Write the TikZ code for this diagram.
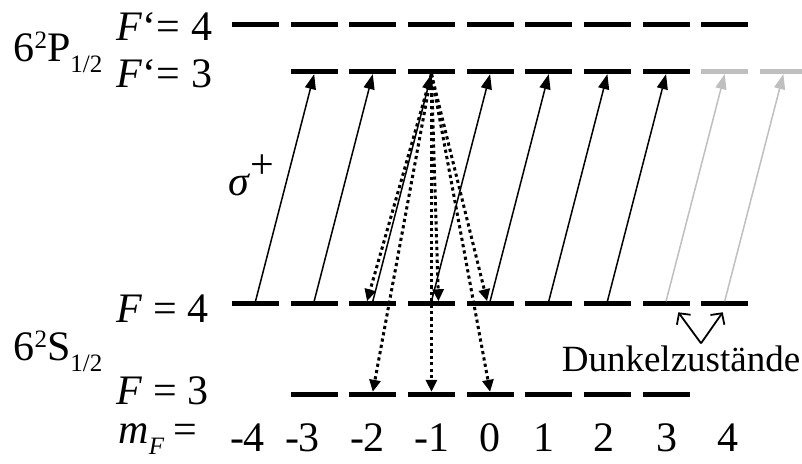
\documentclass[tikz,border=0pt]{standalone}
\usepackage{fontspec}
\setmainfont{Liberation Serif}
\usetikzlibrary{arrows.meta}
\newcommand{\highidx}[1]{\raisebox{13pt}{\fontsize{25}{25}\selectfont #1}}
\newcommand{\lowidx}[1]{\raisebox{-11pt}{\fontsize{25}{25}\selectfont #1}}
\begin{document}
\begin{tikzpicture}[x=1pt,y=-1pt,every node/.style={font=\fontsize{42}{46}\selectfont,inner sep=0pt},
  sublvl/.style={fill=black,minimum width=47pt,minimum height=4.5pt,inner sep=0pt},
  pump/.style={line width=1.5pt,-{Triangle[length=15pt,width=11pt]}},
  decay/.style={line width=3pt,dash pattern=on 3.2pt off 3.2pt,-{Triangle[length=12pt,width=11pt]}},
  hint/.style={line width=1.8pt,-{Straight Barb[length=8pt,width=17pt]}}]
\useasboundingbox (0,0) rectangle (802,463);
% Zeeman sublevels m_F=-4..4
\foreach \k in {1,...,9} {
  \node[sublvl] (p4\k) at (255.5+58.65*\k-58.65,24.3) {};
  \node[sublvl] (s4\k) at (255.5+58.65*\k-58.65,303.7) {};
}
\foreach \k in {2,...,8} {
  \node[sublvl] (p3\k) at (255.5+58.65*\k-58.65,71.7) {};
  \node[sublvl] (s3\k) at (255.5+58.65*\k-58.65,394.3) {};
}
\foreach \k in {9,10} {\node[sublvl,fill=black!25] (p3\k) at (255.5+58.65*\k-58.65,71.7) {};}
% sigma+ pumping
\foreach \k [evaluate=\k as \n using int(\k+1)] in {1,...,7} {\draw[pump] (s4\k.north) -- (p3\n.south);}
\foreach \k/\n in {8/9,9/10} {\draw[pump,black!25] (s4\k.north) -- (p3\n.south);}
% spontaneous decay from F'=3, m_F=-1
\draw[decay] (p34.south) -- ([xshift=-5.8pt]s43.north);
\draw[decay] (p34.south) -- ([xshift=7pt]s44.north);
\draw[decay] (p34.south) -- ([xshift=-3pt]s45.north);
\foreach \k in {3,4,5} {\draw[decay] (p34.south) -- (s3\k.north);}
% labels
\node[anchor=base west] (fp4) at (116.7,40.7) {\textit{F}‘= 4};
\node[anchor=base west] (fp3) at (116.7,87.3) {\textit{F}‘= 3};
\node[anchor=base west] (f4) at (116.7,322.7) {\textit{F} = 4};
\node[anchor=base west] (f3) at (116.7,404) {\textit{F} = 3};
\node[anchor=base west] (pstate) at (13.3,61.7) {6\highidx{2}P\lowidx{1/2}};
\node[anchor=base west] (sstate) at (13.3,360) {6\highidx{2}S\lowidx{1/2}};
\node[anchor=base west] (sig) at (228.3,195) {\textit{σ}\raisebox{17pt}{+}};
\node[anchor=base west] (mf) at (118.3,443.3) {\textit{m}\lowidx{\textit{F}}\hspace{9pt}=};
\foreach \x/\t [count=\k] in {247.5/-4,302.5/-3,367.5/-2,431.7/-1,490/0,543.5/1,604/2,666.5/3,728.3/4}
  {\node[anchor=base] (mlab\k) at (\x,451.7) {\t};}
% dark states
\node[anchor=base,font=\fontsize{37}{40}\selectfont] (dark) at (681,371.7) {Dunkelzustände};
\coordinate (apex) at (701,343.3);
\coordinate (darkl) at (678.3,312.3);
\coordinate (darkr) at (722.7,312.3);
\draw[hint] (apex) -- (darkl);
\draw[hint] (apex) -- (darkr);
\end{tikzpicture}
\end{document}
